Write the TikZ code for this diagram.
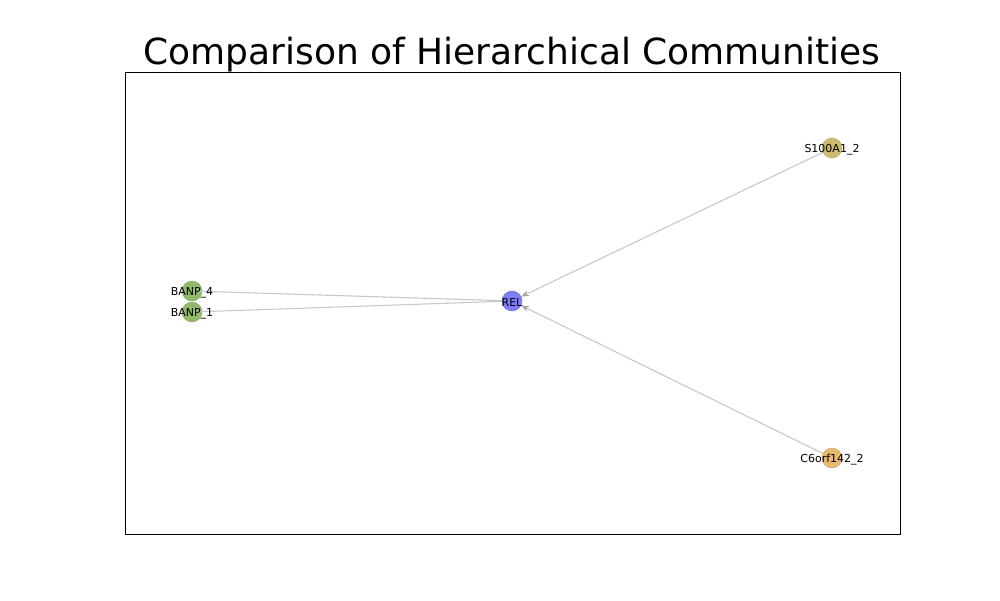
\documentclass[tikz,border=0pt]{standalone}
\usepackage{fontspec}
\setmainfont{DejaVu Sans}
\usetikzlibrary{arrows.meta}

\definecolor{grnode}{RGB}{145,187,107}
\definecolor{blnode}{RGB}{126,126,255}
\definecolor{tnnode}{RGB}{205,187,112}
\definecolor{ornode}{RGB}{232,185,112}
\definecolor{edgegray}{RGB}{200,200,200}

\tikzset{
  gnode/.style={circle, minimum size=20pt, inner sep=0pt, draw opacity=0.9},
  glabel/.style={font=\fontsize{11}{13}\selectfont, yshift=-1.5pt},
  gedge/.style={draw=edgegray, line width=1.1pt},
  garrow/.style={gedge, -{Stealth[length=8pt, width=6pt, color=black!35]}}
}

\begin{document}
\begin{tikzpicture}[x=1pt, y=-1pt]
  \useasboundingbox (0,0) rectangle (1000,600);

  % title and frame
  \node[font=\fontsize{36}{43}\selectfont, anchor=base] (title) at (512,64) {Comparison of Hierarchical Communities};
  \draw[line width=0.8pt] (125,72) rectangle (900,534);

  % nodes
  \node[gnode, fill=grnode, draw=grnode!85!black] (banp4) at (192,291) {};
  \node[gnode, fill=grnode, draw=grnode!85!black] (banp1) at (192,312) {};
  \node[gnode, fill=blnode, draw=blnode!80!black] (rel) at (512,301) {};
  \node[gnode, fill=tnnode, draw=tnnode!85!black] (s100) at (832,148) {};
  \node[gnode, fill=ornode, draw=ornode!85!black] (c6orf) at (832,458) {};

  % edges
  \draw[gedge] (banp4.center) -- (rel);
  \draw[gedge] (banp1.center) -- (rel);
  \draw[garrow] (s100) -- (rel);
  \draw[garrow] (c6orf) -- (rel);

  % labels
  \node[glabel] (banp4l) at (banp4) {BANP\_4};
  \node[glabel] (banp1l) at (banp1) {BANP\_1};
  \node[glabel] (rell) at (rel) {REL};
  \node[glabel] (s100l) at (s100) {S100A1\_2};
  \node[glabel] (c6orfl) at (c6orf) {C6orf142\_2};
\end{tikzpicture}
\end{document}
